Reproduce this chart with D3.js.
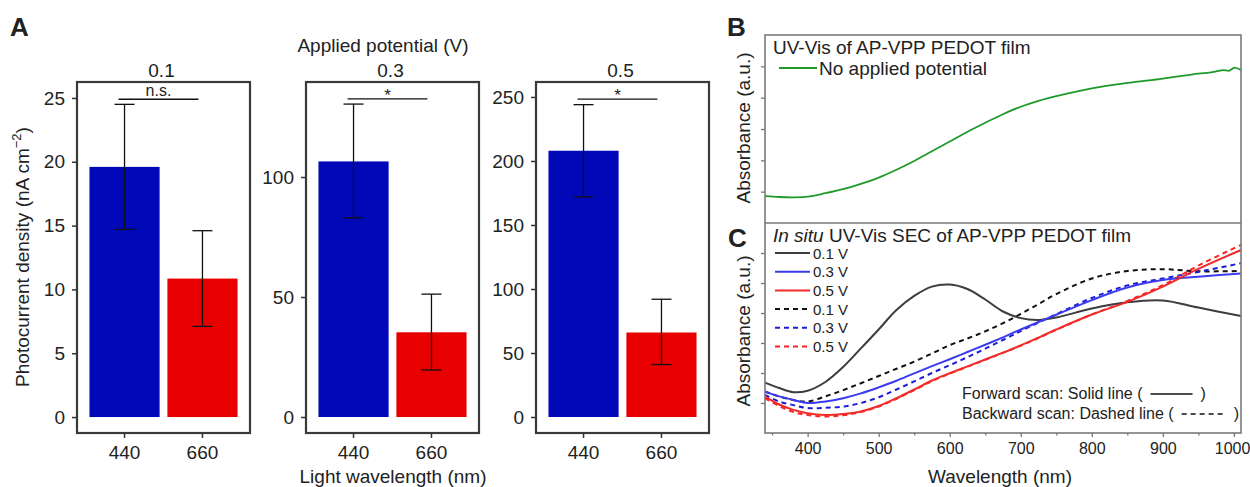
<!DOCTYPE html>
<html>
<head>
<meta charset="utf-8">
<script src="https://cdn.jsdelivr.net/npm/d3@7"></script>
<style>
body { margin: 0; background: #fff; }
svg { display: block; font-family: "Liberation Sans", Arial, sans-serif; }
</style>
</head>
<body>
<svg id="svg" width="1250" height="487"></svg>
<script>
// ---- panel A: photocurrent bars ----
const potentials = ["0.1", "0.3", "0.5"];
const lightNm = ["440", "660"];
const current = [[19.6, 10.85], [106.5, 35.3], [208, 66]];
const currentLow = [[14.7, 7.1], [83, 19.6], [172, 41]];
const currentHigh = [[24.5, 14.6], [130.4, 51.2], [244, 92]];
const sigText = ["n.s.", "*", "*"];
const sigValue = [24.9, 132.6, 248.4];
const currentDomain = [[-1.25, 26.25], [-6.67, 139.6], [-12.5, 261.7]];
const currentTicks = [[0, 5, 10, 15, 20, 25], [0, 50, 100], [0, 50, 100, 150, 200, 250]];

// ---- panel B: UV-Vis, no applied potential ----
const noBiasNm = [340, 360, 380, 400, 425, 450, 475, 500, 525, 550, 575, 600, 625, 650, 675, 700,
    725, 750, 800, 850, 900, 950, 965, 975, 985, 993, 1001, 1010];
const noBiasAbs = [0.86, 0.83, 0.82, 0.84, 0.95, 1.08, 1.25, 1.45, 1.7, 1.98, 2.29, 2.6, 2.91, 3.2, 3.47, 3.71,
    3.9, 4.05, 4.3, 4.47, 4.61, 4.77, 4.8, 4.84, 4.88, 4.86, 4.96, 4.88];

// ---- panel C: in situ SEC ----
const secNm = [340, 360, 380, 400, 425, 450, 475, 500, 525, 550, 575, 600, 625, 650, 675, 700, 725, 750, 800, 850, 900, 950, 1010];
const fwd01 = [1.68, 1.5, 1.36, 1.41, 1.7, 2.2, 2.82, 3.45, 4.1, 4.57, 4.88, 4.95, 4.8, 4.45, 4.05, 3.83, 3.77, 3.85, 4.15, 4.36, 4.42, 4.18, 3.9];
const fwd03 = [1.38, 1.22, 1.1, 1.0, 1.05, 1.16, 1.32, 1.52, 1.74, 1.99, 2.23, 2.46, 2.7, 2.94, 3.19, 3.45, 3.7, 3.94, 4.43, 4.85, 5.1, 5.21, 5.32];
const fwd05 = [1.21, 0.95, 0.77, 0.66, 0.6, 0.63, 0.72, 0.9, 1.16, 1.45, 1.75, 1.99, 2.22, 2.45, 2.68, 2.92, 3.18, 3.45, 3.95, 4.37, 4.88, 5.47, 6.1];
const bwd01 = [1.38, 1.22, 1.1, 1.05, 1.22, 1.43, 1.66, 1.9, 2.14, 2.38, 2.65, 2.93, 3.15, 3.39, 3.66, 3.97, 4.3, 4.63, 5.15, 5.4, 5.46, 5.39, 5.4];
const bwd03 = [1.27, 1.05, 0.93, 0.83, 0.84, 0.88, 1.0, 1.19, 1.45, 1.72, 2.0, 2.26, 2.53, 2.81, 3.1, 3.4, 3.68, 3.96, 4.5, 4.92, 5.15, 5.37, 5.66];
const bwd05 = [1.16, 0.9, 0.7, 0.6, 0.55, 0.59, 0.7, 0.88, 1.14, 1.43, 1.73, 1.98, 2.21, 2.44, 2.67, 2.91, 3.17, 3.44, 3.95, 4.4, 4.93, 5.58, 6.27];
const secLabels = ["0.1 V", "0.3 V", "0.5 V", "0.1 V", "0.3 V", "0.5 V"];

const svg = d3.select("#svg");
const barColors = ["#0008b8", "#e80000"];

// ---------- A ----------
const frameLeft = [77, 306, 536];
const frameW = 173, aTop = 82, aBottom = 433;

svg.append("text").attr("x", 10).attr("y", 36).attr("font-size", 26).attr("font-weight", "bold")
    .attr("fill", "#222").text("A");

potentials.forEach((pot, i) => {
    const x0 = frameLeft[i];
    const x = d3.scaleBand().domain(lightNm).range([x0, x0 + frameW]).paddingInner(0.1).paddingOuter(0.16);
    const y = d3.scaleLinear().domain(currentDomain[i]).range([aBottom, aTop]);
    const g = svg.append("g");

    g.selectAll("rect.bar").data(lightNm).enter().append("rect")
        .attr("class", "bar")
        .attr("x", d => x(d)).attr("width", x.bandwidth())
        .attr("y", (d, j) => y(current[i][j]))
        .attr("height", (d, j) => y(0) - y(current[i][j]))
        .attr("fill", (d, j) => barColors[j]);

    const cx = d => x(d) + x.bandwidth() / 2;
    lightNm.forEach((d, j) => {
        const eb = g.append("g").attr("stroke", "#111").attr("stroke-width", 1.3);
        eb.append("line").attr("x1", cx(d)).attr("x2", cx(d))
            .attr("y1", y(currentLow[i][j])).attr("y2", y(currentHigh[i][j]));
        [currentLow[i][j], currentHigh[i][j]].forEach(v => {
            eb.append("line").attr("x1", cx(d) - 10).attr("x2", cx(d) + 10)
                .attr("y1", y(v)).attr("y2", y(v));
        });
    });

    // significance bar
    const sx1 = cx(lightNm[0]) - 6, sx2 = cx(lightNm[1]) - 4;
    g.append("line").attr("x1", sx1).attr("x2", sx2)
        .attr("y1", y(sigValue[i])).attr("y2", y(sigValue[i]))
        .attr("stroke", "#111").attr("stroke-width", 1.3);
    g.append("text").attr("x", (sx1 + sx2) / 2).attr("y", y(sigValue[i]) - (sigText[i] === "*" ? -2 : 3))
        .attr("text-anchor", "middle").attr("font-size", sigText[i] === "*" ? 17 : 16).attr("fill", "#222")
        .text(sigText[i]);

    // axes
    const yAxis = g.append("g").attr("transform", `translate(${x0},0)`)
        .call(d3.axisLeft(y).tickValues(currentTicks[i]).tickSize(5).tickPadding(7));
    const xAxis = g.append("g").attr("transform", `translate(0,${aBottom})`)
        .call(d3.axisBottom(x).tickSize(5).tickPadding(8));
    [yAxis, xAxis].forEach(ax => {
        ax.select(".domain").remove();
        ax.selectAll("line").attr("stroke", "#333").attr("stroke-width", 1.5);
        ax.selectAll("text").attr("font-size", 19).attr("fill", "#222")
            .attr("font-family", "'Liberation Sans', Arial, sans-serif");
    });

    g.append("rect").attr("x", x0).attr("y", aTop).attr("width", frameW).attr("height", aBottom - aTop)
        .attr("fill", "none").attr("stroke", "#3a3a3a").attr("stroke-width", 2.2);

    g.append("text").attr("x", x0 + frameW / 2 - 2).attr("y", 77).attr("text-anchor", "middle")
        .attr("font-size", 19).attr("fill", "#222").text(pot);
});

svg.append("text").attr("x", 383).attr("y", 52).attr("text-anchor", "middle")
    .attr("font-size", 19).attr("fill", "#222").text("Applied potential (V)");
svg.append("text").attr("x", 393).attr("y", 483).attr("text-anchor", "middle")
    .attr("font-size", 19).attr("fill", "#222").text("Light wavelength (nm)");
const ylab = svg.append("text").attr("transform", "translate(29,257) rotate(-90)")
    .attr("text-anchor", "middle").attr("font-size", 19).attr("fill", "#222");
ylab.append("tspan").text("Photocurrent density (nA cm");
ylab.append("tspan").attr("dy", -8).attr("font-size", 13).text("\u22122");
ylab.append("tspan").attr("dy", 8).text(")");

// ---------- B & C ----------
const bcLeft = 765, bcRight = 1241, bTop = 35, bBottom = 223, cBottom = 433;
const wl = d3.scaleLinear().domain([340, 1010]).range([bcLeft, bcRight]);
const yB = d3.scaleLinear().domain([0, 6]).range([bBottom, bTop]);
const yC = d3.scaleLinear().domain([0, 7]).range([cBottom, bBottom]);

svg.append("text").attr("x", 727).attr("y", 36).attr("font-size", 26).attr("font-weight", "bold")
    .attr("fill", "#222").text("B");
svg.append("text").attr("x", 728).attr("y", 247).attr("font-size", 26).attr("font-weight", "bold")
    .attr("fill", "#222").text("C");
[128, 331].forEach(cy => {
    svg.append("text").attr("transform", `translate(750,${cy}) rotate(-90)`)
        .attr("text-anchor", "middle").attr("font-size", 19).attr("fill", "#222").text("Absorbance (a.u.)");
});

// y ticks (no labels)
const bTicks = svg.append("g").attr("transform", `translate(${bcLeft},0)`)
    .call(d3.axisLeft(yB).tickValues([1, 2, 3, 4, 5]).tickSize(4).tickFormat(""));
const cTicks = svg.append("g").attr("transform", `translate(${bcLeft},0)`)
    .call(d3.axisLeft(yC).tickValues([1, 2, 3, 4, 5, 6]).tickSize(4).tickFormat(""));
const cX = svg.append("g").attr("transform", `translate(0,${cBottom})`)
    .call(d3.axisBottom(wl).tickValues([400, 500, 600, 700, 800, 900, 1000]).tickSize(4).tickPadding(6)
        .tickFormat(d3.format("d")));
const cXminor = svg.append("g").attr("transform", `translate(0,${cBottom})`)
    .call(d3.axisBottom(wl).tickValues([350, 450, 550, 650, 750, 850, 950]).tickSize(2.5).tickFormat(""));
[bTicks, cTicks, cX, cXminor].forEach(ax => {
    ax.select(".domain").remove();
    ax.selectAll("line").attr("stroke", "#777").attr("stroke-width", 1.3);
});
cX.selectAll("text").attr("font-size", 16).attr("fill", "#222")
    .attr("font-family", "'Liberation Sans', Arial, sans-serif");
cX.selectAll("text").filter(d => d === 1000).attr("text-anchor", "end").attr("dx", 16);

svg.append("text").attr("x", 1000).attr("y", 483).attr("text-anchor", "middle")
    .attr("font-size", 19).attr("fill", "#222").text("Wavelength (nm)");

const lineB = d3.line().x((d, i) => wl(noBiasNm[i])).y(d => yB(d)).curve(d3.curveCatmullRom.alpha(0.5));
svg.append("path").attr("d", lineB(noBiasAbs)).attr("fill", "none")
    .attr("stroke", "#1f9a2a").attr("stroke-width", 1.8);

const lineC = d3.line().x((d, i) => wl(secNm[i])).y(d => yC(d)).curve(d3.curveCatmullRom.alpha(0.5));
const secSeries = [
    {v: fwd01, c: "#3d3d3d", dash: null},
    {v: fwd03, c: "#3b3bf0", dash: null},
    {v: fwd05, c: "#f22a2a", dash: null},
    {v: bwd01, c: "#111111", dash: "5,4"},
    {v: bwd03, c: "#1c1cd8", dash: "5,4"},
    {v: bwd05, c: "#ff2222", dash: "5,4"}
];
const drawOrder = [3, 4, 5, 0, 1, 2];
drawOrder.forEach(k => {
    const s = secSeries[k];
    svg.append("path").attr("d", lineC(s.v)).attr("fill", "none")
        .attr("stroke", s.c).attr("stroke-width", 2).attr("stroke-dasharray", s.dash);
});

// frames
svg.append("rect").attr("x", bcLeft).attr("y", bTop).attr("width", bcRight - bcLeft).attr("height", cBottom - bTop)
    .attr("fill", "none").attr("stroke", "#7a7a7a").attr("stroke-width", 1.6);
svg.append("line").attr("x1", bcLeft).attr("x2", bcRight).attr("y1", bBottom).attr("y2", bBottom)
    .attr("stroke", "#7a7a7a").attr("stroke-width", 1.6);

// B legend
svg.append("text").attr("x", 773).attr("y", 54).attr("font-size", 19).attr("fill", "#222")
    .text("UV-Vis of AP-VPP PEDOT film");
svg.append("line").attr("x1", 779).attr("x2", 817).attr("y1", 68).attr("y2", 68)
    .attr("stroke", "#1f9a2a").attr("stroke-width", 1.8);
svg.append("text").attr("x", 819).attr("y", 75).attr("font-size", 19).attr("fill", "#222")
    .text("No applied potential");

// C legend
const cTitle = svg.append("text").attr("x", 773).attr("y", 242).attr("font-size", 19).attr("fill", "#222");
cTitle.append("tspan").attr("font-style", "italic").text("In situ");
cTitle.append("tspan").text(" UV-Vis SEC of AP-VPP PEDOT film");

secSeries.forEach((s, k) => {
    const ly = 253 + k * 18.7;
    svg.append("line").attr("x1", 775).attr("x2", 810).attr("y1", ly).attr("y2", ly)
        .attr("stroke", s.c).attr("stroke-width", 2).attr("stroke-dasharray", s.dash);
    svg.append("text").attr("x", 813).attr("y", ly + 5.5).attr("font-size", 15).attr("fill", "#222")
        .text(secLabels[k]);
});

const scanNotes = [
    {label: "Forward scan: Solid line (", y: 399, dash: null, len: 42},
    {label: "Backward scan: Dashed line (", y: 419, dash: "5,4", len: 44}
];
scanNotes.forEach(n => {
    const t = svg.append("text").attr("x", 962).attr("y", n.y).attr("font-size", 16).attr("fill", "#222")
        .text(n.label);
    const w = t.node().getComputedTextLength();
    const lx = 962 + w + 8;
    svg.append("line").attr("x1", lx).attr("x2", lx + n.len).attr("y1", n.y - 5).attr("y2", n.y - 5)
        .attr("stroke", "#111").attr("stroke-width", 1.6).attr("stroke-dasharray", n.dash);
    svg.append("text").attr("x", lx + n.len + 8).attr("y", n.y).attr("font-size", 16).attr("fill", "#222").text(")");
});
</script>
</body>
</html>
